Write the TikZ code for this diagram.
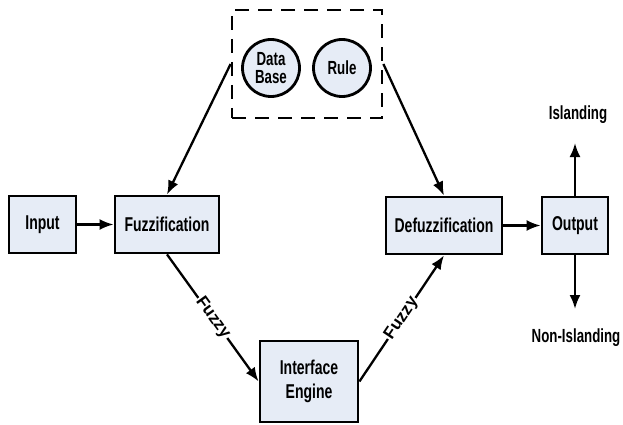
\documentclass[tikz,border=0pt]{standalone}
\usepackage{fontspec}
\setmainfont{Liberation Sans}[FakeStretch=0.7]
\newfontfamily\widefont{Liberation Sans}
\usetikzlibrary{arrows.meta}
\definecolor{boxblue}{RGB}{230,236,246}
\tikzset{
	block/.style = {draw, line width=2.8pt, fill=boxblue, font=\fontsize{20}{22}\selectfont\bfseries, align=center},
	store/.style = {draw, circle, line width=2.8pt, fill=boxblue, minimum size=57pt, inner sep=0pt, font=\fontsize{19}{19}\selectfont\bfseries, align=center},
	link/.style = {line width=2.3pt, -{Latex[length=14pt,width=11pt]}},
	tag/.style = {font=\fontsize{19}{21}\selectfont\bfseries},
	fuzzytag/.style = {font=\widefont\fontsize{17}{19}\selectfont\bfseries, fill=white, inner sep=1pt}
}

\begin{document}
\begin{tikzpicture}[x=1pt, y=-1pt]
		\useasboundingbox (0,0) rectangle (623,425);
		\node[draw, line width=2.8pt, dash pattern=on 14pt off 9pt, minimum width=150pt, minimum height=108pt, inner sep=0pt] (kb) at (307,64) {};
		\node[store] (base) at (271,68) {Data\\[-1pt]Base};
		\node[store] (rule) at (342,68) {Rule};
		\node[block, minimum width=67pt, minimum height=57pt] (in) at (42.5,224.5) {Input};
		\node[block, minimum width=104pt, minimum height=57pt] (fuzz) at (167,224.5) {Fuzzification};
		\node[block, minimum width=98pt, minimum height=81pt] (eng) at (309,381.5) {Interface\\[2pt]Engine};
		\node[block, minimum width=116pt, minimum height=57pt] (defuzz) at (444,225.5) {Defuzzification};
		\node[block, minimum width=66pt, minimum height=57pt] (out) at (575,225.5) {Output};
		\node[tag] (isl) at (578,115) {Islanding};
		\node[tag] (nonisl) at (576,338) {Non-Islanding};
		\coordinate (up) at (575,143);
		\coordinate (down) at (575,309);
		\draw[link] (in) -- (fuzz);
		\draw[link] (kb.west) -- (fuzz.north);
		\draw[link] (kb.east) -- (defuzz.north);
		\draw[link] (fuzz.south) -- (eng.west) node[midway, sloped, fuzzytag] {Fuzzy};
		\draw[link] (eng.east) -- (defuzz.south) node[midway, sloped, fuzzytag] {Fuzzy};
		\draw[link] (defuzz) -- (out);
		\draw[link] (out.north) -- (up);
		\draw[link] (out.south) -- (down);
	\end{tikzpicture}
\end{document}
